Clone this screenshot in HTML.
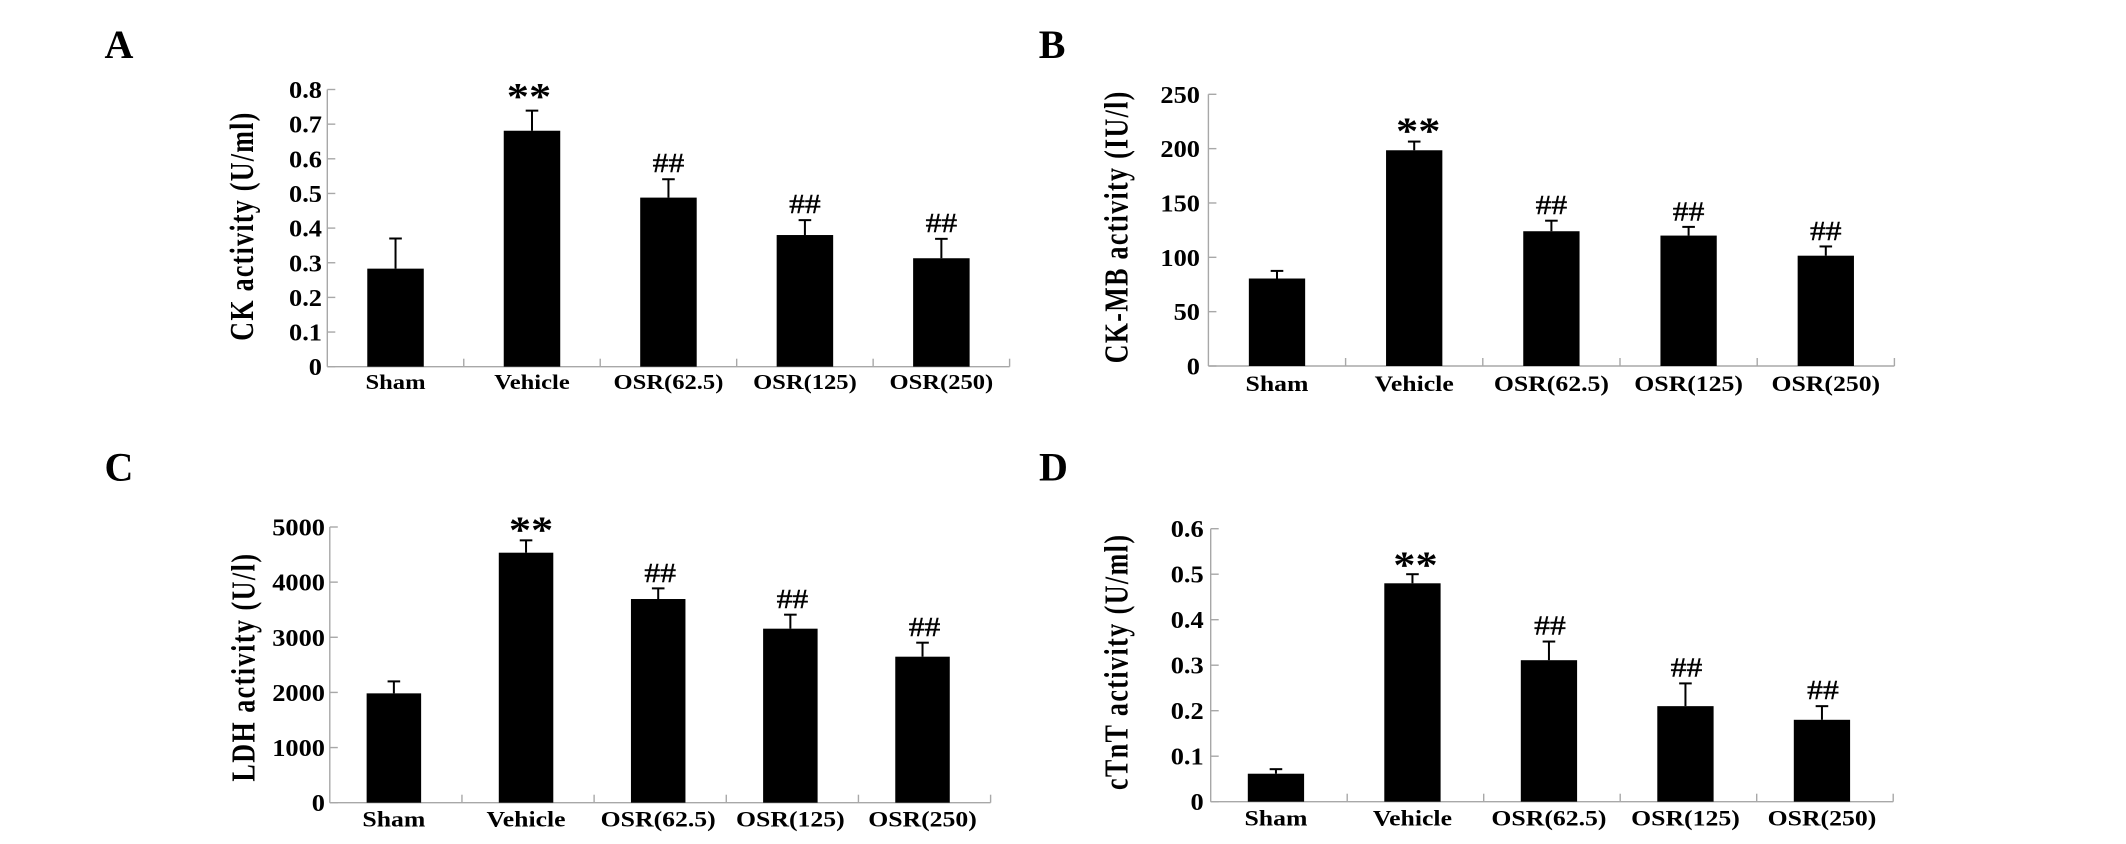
<!DOCTYPE html>
<html lang="en">
<head>
<meta charset="utf-8">
<title>Cardiac enzyme activity bar charts</title>
<style>
html,body{margin:0;padding:0;background:#fff;width:2126px;height:844px;overflow:hidden}
svg{display:block}
text{font-family:"Liberation Serif",serif;fill:#000}
</style>
</head>
<body>
<svg id="figure" xmlns="http://www.w3.org/2000/svg" width="2126" height="844" viewBox="0 0 2126 844"></svg>
<script>
const categories = ["Sham", "Vehicle", "OSR(62.5)", "OSR(125)", "OSR(250)"];
const significance = ["", "**", "##", "##", "##"];

const ckValues = [0.283, 0.681, 0.488, 0.38, 0.313];
const ckErrors = [0.087, 0.058, 0.053, 0.043, 0.056];
const ckTicks = [0, 0.1, 0.2, 0.3, 0.4, 0.5, 0.6, 0.7, 0.8];

const ckmbValues = [80.5, 198.5, 124, 120, 101.5];
const ckmbErrors = [7, 8, 9.7, 8, 8.5];
const ckmbTicks = [0, 50, 100, 150, 200, 250];

const ldhValues = [1983, 4534, 3694, 3156, 2648];
const ldhErrors = [217, 224, 193, 254, 254];
const ldhTicks = [0, 1000, 2000, 3000, 4000, 5000];

const ctntValues = [0.0615, 0.48, 0.311, 0.21, 0.18];
const ctntErrors = [0.01, 0.02, 0.041, 0.05, 0.03];
const ctntTicks = [0, 0.1, 0.2, 0.3, 0.4, 0.5, 0.6];

const panels = [
  {id:"a", letter:"A", letterX:104.5, letterY:58, title:"CK activity (U/ml)", values:ckValues, errors:ckErrors, ticks:ckTicks,
   x0:327.3, x1:1009.6, y0:366.7, y1:89.5, barShift:0, barW:56.5, tickEnd:322, catY:389, catSize:21,
   titleX:253, titleY:226.7, titleLen:228, starGap:1.5, hashGap:7, starDx:-3, hashDx:0},
  {id:"b", letter:"B", letterX:1038.8, letterY:58, title:"CK-MB activity (IU/l)", values:ckmbValues, errors:ckmbErrors, ticks:ckmbTicks,
   x0:1208.4, x1:1894.4, y0:366, y1:94.3, barShift:0, barW:56.3, tickEnd:1200, catY:391, catSize:22,
   titleX:1127.4, titleY:227.5, titleLen:271.6, starGap:-2, hashGap:6.5, starDx:4, hashDx:0},
  {id:"c", letter:"C", letterX:104.5, letterY:480.5, title:"LDH activity (U/l)", values:ldhValues, errors:ldhErrors, ticks:ldhTicks,
   x0:329.8, x1:990.6, y0:802.7, y1:527, barShift:-2, barW:54.5, tickEnd:325, catY:826.7, catSize:22,
   titleX:254.5, titleY:667.8, titleLen:227.7, starGap:-2, hashGap:6.5, starDx:5, hashDx:2},
  {id:"d", letter:"D", letterX:1039, letterY:480.5, title:"cTnT activity (U/ml)", values:ctntValues, errors:ctntErrors, ticks:ctntTicks,
   x0:1210.7, x1:1893.2, y0:801.7, y1:528.7, barShift:-3, barW:56.3, tickEnd:1203.7, catY:825.3, catSize:22,
   titleX:1127.4, titleY:662.5, titleLen:255, starGap:-3.5, hashGap:7, starDx:3, hashDx:1}
];

const SVG_NS = "http://www.w3.org/2000/svg";
const figure = document.getElementById("figure");
const STRETCH = 1.17;
const TICK_STRETCH = 1.1;
const TITLE_STRETCH = 1.31;

function shape(parent, tag, attrs) {
  const el = document.createElementNS(SVG_NS, tag);
  for (const k in attrs) el.setAttribute(k, attrs[k]);
  parent.appendChild(el);
  return el;
}
function label(parent, str, x, y, size, weight, anchor, sx) {
  const el = shape(parent, "text", {
    transform: "translate(" + x + " " + y + ") scale(" + sx + " 1)",
    "font-size": size, "font-weight": weight, "text-anchor": anchor
  });
  el.textContent = str;
  return el;
}

panels.forEach(function (p) {
  const g = shape(figure, "g", {});
  
  

  const yMax = p.ticks[p.ticks.length - 1];
  const yScale = function (v) { return p.y0 - (v / yMax) * (p.y0 - p.y1); };
  const step = (p.x1 - p.x0) / categories.length;
  const xScale = function (i) { return p.x0 + step * (i + 0.5) + p.barShift; };

  const letter = label(g, p.letter, p.letterX, p.letterY, 40, "bold", "start", 1);
  
  

  const title = shape(g, "text", {
    transform: "translate(" + p.titleX + " " + p.titleY + ") scale(" + TITLE_STRETCH + " 1) rotate(-90)",
    "font-size": 26, "font-weight": "bold", "text-anchor": "middle",
    textLength: p.titleLen, lengthAdjust: "spacing"
  });
  title.textContent = p.title;
  
  

  const axisStyle = {stroke: "#a8a8a8", "stroke-width": 1.4, fill: "none"};

  const yAxis = shape(g, "line", Object.assign({x1: p.x0, x2: p.x0, y1: p.y1, y2: p.y0}, axisStyle));
  
  

  const xAxis = shape(g, "line", Object.assign({x1: p.x0, x2: p.x1, y1: p.y0, y2: p.y0}, axisStyle));
  
  

  p.ticks.forEach(function (t) {
    const y = yScale(t);
    const tick = shape(g, "line", Object.assign({x1: p.x0, x2: p.x0 + 8, y1: y, y2: y}, axisStyle));
    
    
    const txt = label(g, String(t), p.tickEnd, y + 8.5, 24, "bold", "end", TICK_STRETCH);
    
    
  });

  categories.forEach(function (c, i) {
    const bx = p.x0 + step * (i + 1);
    const tick = shape(g, "line", Object.assign({x1: bx, x2: bx, y1: p.y0 - 8, y2: p.y0}, axisStyle));
    
    

    const cx = xScale(i);
    const top = yScale(p.values[i]);
    const errTop = yScale(p.values[i] + p.errors[i]);

    const bar = shape(g, "rect", {x: cx - p.barW / 2, y: top, width: p.barW, height: p.y0 - top, fill: "#000"});
    
    

    const stem = shape(g, "line", {x1: cx, x2: cx, y1: top, y2: errTop, stroke: "#000", "stroke-width": 2});
    
    

    const cap = shape(g, "line", {x1: cx - 6.3, x2: cx + 6.3, y1: errTop, y2: errTop, stroke: "#000", "stroke-width": 2});
    
    

    const cat = label(g, c, cx, p.catY, p.catSize, "bold", "middle", STRETCH);
    
    

    const sig = significance[i];
    if (sig === "**") {
      const star = label(g, sig, cx + p.starDx, errTop - p.starGap, 38, "bold", "middle", STRETCH);
      
      
    } else if (sig === "##") {
      const hash = label(g, sig, cx + p.hashDx, errTop - p.hashGap, 27, "normal", "middle", STRETCH);
      hash.setAttribute("stroke", "#000");
      hash.setAttribute("stroke-width", "0.4");
      
      
    }
  });
});
</script>
</body>
</html>
